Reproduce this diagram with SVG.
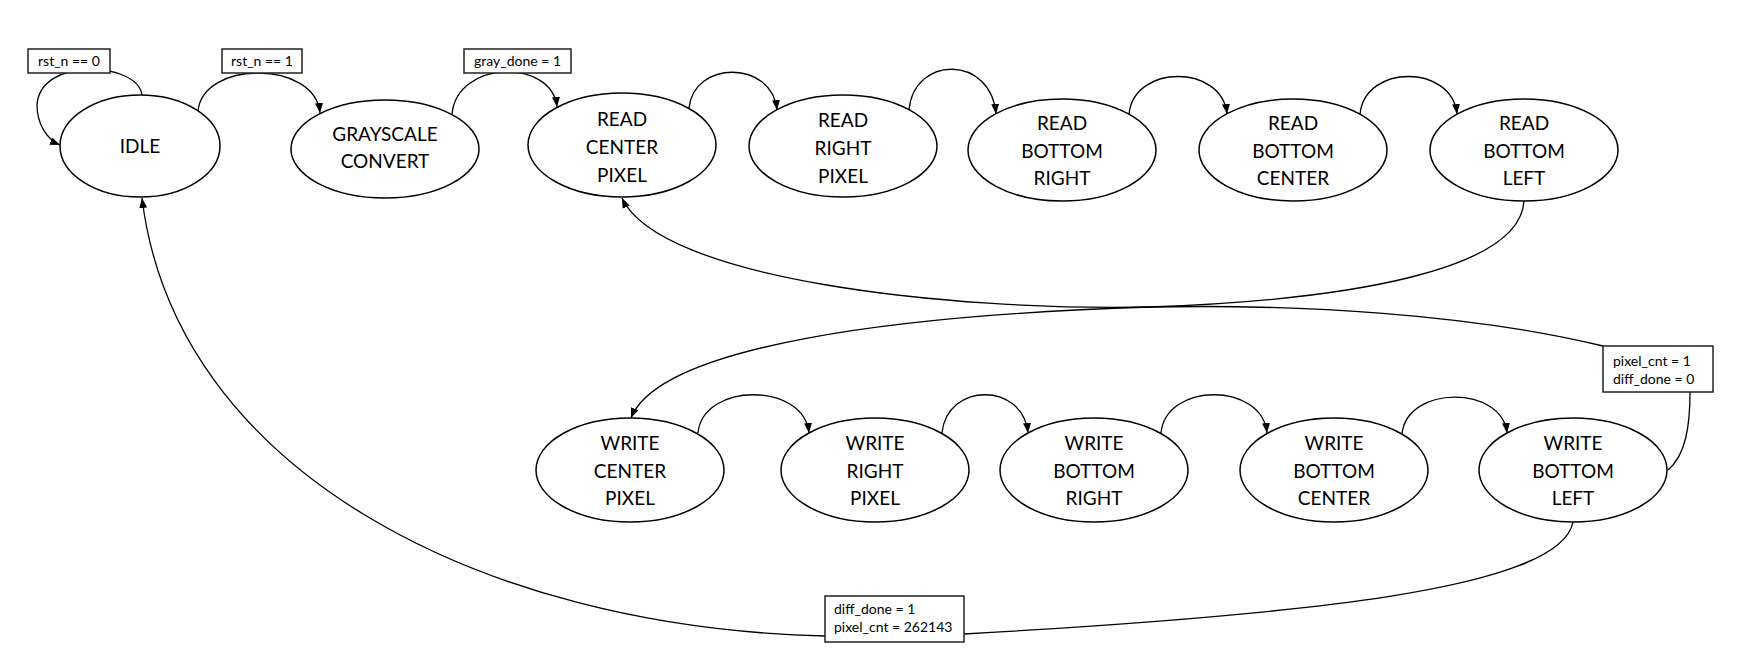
<svg xmlns="http://www.w3.org/2000/svg" width="1756" height="669" viewBox="0 0 1756 669">
<style>
.st{fill:#fff;stroke:#000;stroke-width:1.5}
.t{font-family:Lato,"Open Sans","Liberation Sans",sans-serif;font-size:19px;text-anchor:middle;fill:#000}
.lb{fill:#fff;stroke:#222;stroke-width:1.5}
.lt{font-family:Lato,"Open Sans","Liberation Sans",sans-serif;font-size:14px;fill:#000}
.c{fill:none;stroke:#000;stroke-width:1.3;marker-end:url(#ah)}
</style>
<defs>
<marker id="ah" markerUnits="userSpaceOnUse" markerWidth="10" markerHeight="8" refX="10" refY="4" orient="auto">
<path d="M0,0 L10,4 L0,8 z" fill="#000"/>
</marker>
</defs>
<rect width="1756" height="669" fill="#fff"/>
<g id="connectors">
<path class="c" d="M142 95 C138 62,40 56,37 105 C37 125,48 140,60 145"/>
<path class="c" d="M198 111 C203 60,315 60,320 113"/>
<path class="c" d="M452 114 C457 60,552 58,557 107"/>
<path class="c" d="M689 108 C694 60,772 60,777 110"/>
<path class="c" d="M909 110 C914 55,991 55,996 114"/>
<path class="c" d="M1129 114 C1134 64,1222 64,1227 114"/>
<path class="c" d="M1360 114 C1365 64,1452 64,1457 114"/>
<path class="c" d="M1524 201 C1520 270,1350 300,1150 307 C900 315,660 345,631 418"/>
<path class="c" d="M1668 470 C1686 455,1690 425,1690 392 L1603 346 C1470 314,1300 304,1150 307 C950 311,660 280,622 198"/>
<path class="c" d="M698 433 C703 382,804 382,809 433"/>
<path class="c" d="M942 433 C947 382,1023 382,1028 433"/>
<path class="c" d="M1161 433 C1166 382,1262 382,1267 433"/>
<path class="c" d="M1402 434 C1407 385,1502 385,1507 433"/>
<path class="c" d="M1573 522 C1560 590,1300 615,964 634 L825 636 C480 628,175 470,142 198"/>
</g>
<g id="idle"><ellipse class="st" cx="140" cy="146" rx="80" ry="51"/><text class="t" x="140" y="153">IDLE</text></g>
<g id="grayscale_convert"><ellipse class="st" cx="385" cy="149" rx="94" ry="49"/><text class="t" x="385" y="141">GRAYSCALE</text><text class="t" x="385" y="168">CONVERT</text></g>
<g id="read_center_pixel"><ellipse class="st" cx="622" cy="145" rx="94" ry="52"/><text class="t" x="622" y="126">READ</text><text class="t" x="622" y="154">CENTER</text><text class="t" x="622" y="182">PIXEL</text></g>
<g id="read_right_pixel"><ellipse class="st" cx="843" cy="146" rx="94" ry="51"/><text class="t" x="843" y="127">READ</text><text class="t" x="843" y="155">RIGHT</text><text class="t" x="843" y="183">PIXEL</text></g>
<g id="read_bottom_right"><ellipse class="st" cx="1062" cy="150" rx="94" ry="51"/><text class="t" x="1062" y="130">READ</text><text class="t" x="1062" y="158">BOTTOM</text><text class="t" x="1062" y="185">RIGHT</text></g>
<g id="read_bottom_center"><ellipse class="st" cx="1293" cy="150" rx="94" ry="51"/><text class="t" x="1293" y="130">READ</text><text class="t" x="1293" y="158">BOTTOM</text><text class="t" x="1293" y="185">CENTER</text></g>
<g id="read_bottom_left"><ellipse class="st" cx="1524" cy="150" rx="94" ry="51"/><text class="t" x="1524" y="130">READ</text><text class="t" x="1524" y="158">BOTTOM</text><text class="t" x="1524" y="185">LEFT</text></g>
<g id="write_center_pixel"><ellipse class="st" cx="630" cy="470" rx="94" ry="52"/><text class="t" x="630" y="450">WRITE</text><text class="t" x="630" y="478">CENTER</text><text class="t" x="630" y="505">PIXEL</text></g>
<g id="write_right_pixel"><ellipse class="st" cx="875" cy="470" rx="94" ry="52"/><text class="t" x="875" y="450">WRITE</text><text class="t" x="875" y="478">RIGHT</text><text class="t" x="875" y="505">PIXEL</text></g>
<g id="write_bottom_right"><ellipse class="st" cx="1094" cy="470" rx="94" ry="52"/><text class="t" x="1094" y="450">WRITE</text><text class="t" x="1094" y="478">BOTTOM</text><text class="t" x="1094" y="505">RIGHT</text></g>
<g id="write_bottom_center"><ellipse class="st" cx="1334" cy="470" rx="94" ry="52"/><text class="t" x="1334" y="450">WRITE</text><text class="t" x="1334" y="478">BOTTOM</text><text class="t" x="1334" y="505">CENTER</text></g>
<g id="write_bottom_left"><ellipse class="st" cx="1573" cy="470" rx="94" ry="52"/><text class="t" x="1573" y="450">WRITE</text><text class="t" x="1573" y="478">BOTTOM</text><text class="t" x="1573" y="505">LEFT</text></g>
<g id="label_rst0"><rect class="lb" x="28" y="49" width="82" height="24"/><text class="lt" x="69" y="66" text-anchor="middle">rst_n == 0</text></g>
<g id="label_rst1"><rect class="lb" x="222" y="49" width="80" height="24"/><text class="lt" x="262" y="66" text-anchor="middle">rst_n == 1</text></g>
<g id="label_gray"><rect class="lb" x="464" y="49" width="107" height="24"/><text class="lt" x="517.5" y="66" text-anchor="middle">gray_done = 1</text></g>
<g id="label_loop"><rect class="lb" x="1603" y="346" width="110" height="46"/><text class="lt" x="1613" y="366">pixel_cnt = 1</text><text class="lt" x="1613" y="384">diff_done = 0</text></g>
<g id="label_done"><rect class="lb" x="825" y="596" width="139" height="46"/><text class="lt" x="834" y="614">diff_done = 1</text><text class="lt" x="834" y="632">pixel_cnt = 262143</text></g>
</svg>
